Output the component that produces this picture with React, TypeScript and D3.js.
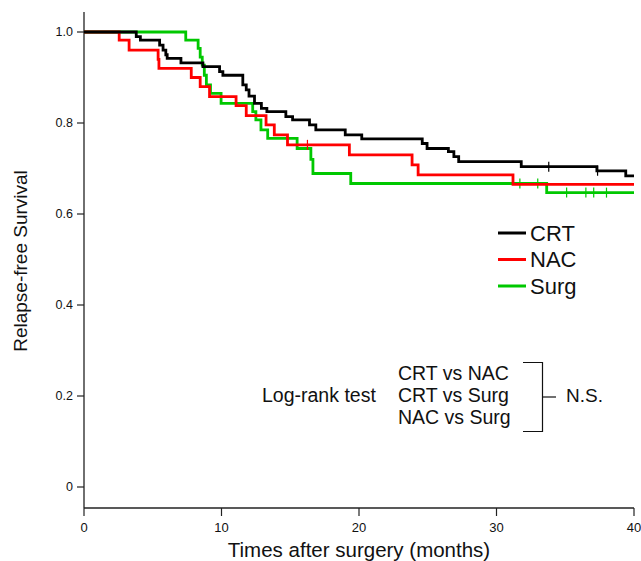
import React from "react";
import * as d3 from "d3";

const xTicks = [0, 10, 20, 30, 40];
const yTicks = [0, 0.2, 0.4, 0.6, 0.8, 1.0];
const yTickLabels = ["0", "0.2", "0.4", "0.6", "0.8", "1.0"];

const crtTimes = [0, 3.8, 4.1, 5.5, 5.75, 5.95, 6.05, 7.05, 8.65, 9.86, 10.1, 11.55, 11.8, 12.0, 12.4, 12.9, 13.3, 14.68, 15.17, 16.4, 16.86, 19.0, 20.2, 24.6, 24.95, 26.5, 26.9, 27.25, 31.8, 37.3, 39.4, 40];
const crtSurv = [1, 0.99, 0.982, 0.971, 0.96, 0.95, 0.942, 0.932, 0.924, 0.913, 0.905, 0.884, 0.873, 0.859, 0.843, 0.832, 0.825, 0.814, 0.807, 0.796, 0.785, 0.774, 0.765, 0.755, 0.744, 0.737, 0.726, 0.715, 0.704, 0.695, 0.684, 0.684];
const crtCensorT = [33.8, 37.35];
const crtCensorS = [0.704, 0.695];

const nacTimes = [0, 2.56, 3.28, 5.39, 5.45, 7.8, 8.45, 9.13, 11.06, 11.8, 13.24, 13.84, 14.8, 19.3, 23.86, 24.3, 31.2, 40];
const nacSurv = [1, 0.982, 0.96, 0.94, 0.92, 0.9, 0.88, 0.858, 0.838, 0.816, 0.796, 0.774, 0.752, 0.73, 0.708, 0.686, 0.665, 0.665];
const nacCensorT = [16.25];
const nacCensorS = [0.752];

const surgTimes = [0, 7.4, 8.3, 8.45, 8.6, 8.75, 8.9, 9.2, 9.97, 12.27, 12.5, 12.87, 13.36, 15.5, 16.5, 16.65, 19.4, 33.65, 40];
const surgSurv = [1, 0.982, 0.964, 0.945, 0.927, 0.905, 0.884, 0.865, 0.843, 0.825, 0.807, 0.785, 0.766, 0.744, 0.72, 0.689, 0.667, 0.647, 0.647];
const surgCensorT = [31.7, 33.0, 35.1, 36.5, 37.07, 38.0];
const surgCensorS = [0.667, 0.667, 0.647, 0.647, 0.647, 0.647];

const groups = ["CRT", "NAC", "Surg"];
const colors = ["#000000", "#ff0000", "#00c800"];
const compLines = ["CRT vs NAC", "CRT vs Surg", "NAC vs Surg"];

const FONT = "'Liberation Sans', Arial, Helvetica, sans-serif";

export default function App() {
  const W = 641, H = 561;
  const x = d3.scaleLinear().domain([0, 40]).range([84, 634]);
  const y = d3.scaleLinear().domain([0, 1]).range([487, 32]);
  const line = d3
    .line<[number, number]>()
    .x((d) => x(d[0]))
    .y((d) => y(d[1]))
    .curve(d3.curveStepAfter);

  const series = [
    { t: crtTimes, s: crtSurv, ct: crtCensorT, cs: crtCensorS },
    { t: nacTimes, s: nacSurv, ct: nacCensorT, cs: nacCensorS },
    { t: surgTimes, s: surgSurv, ct: surgCensorT, cs: surgCensorS },
  ];
  const order = [2, 1, 0];
  const axisY = 508;

  return (
    <svg width={W} height={H} style={{ position: "absolute", left: 0, top: 0, background: "#fff" }} fontFamily={FONT}>
      {/* y axis */}
      <line x1={84} x2={84} y1={12} y2={axisY} stroke="#222" strokeWidth={1.3} />
      {yTicks.map((v, i) => (
        <g key={"yt" + i}>
          <line x1={77} x2={84} y1={y(v)} y2={y(v)} stroke="#222" strokeWidth={1.2} />
          <text x={73} y={y(v)} dy="0.35em" textAnchor="end" fontSize={12.5} fill="#111">
            {yTickLabels[i]}
          </text>
        </g>
      ))}
      {/* x axis */}
      <line x1={84} x2={x(40)} y1={axisY} y2={axisY} stroke="#222" strokeWidth={1.3} />
      {xTicks.map((v) => (
        <g key={"xt" + v}>
          <line x1={x(v)} x2={x(v)} y1={axisY} y2={axisY + 8} stroke="#222" strokeWidth={1.2} />
          <text x={x(v)} y={axisY + 24} textAnchor="middle" fontSize={13} fill="#111">
            {v}
          </text>
        </g>
      ))}
      <text x={359} y={557} textAnchor="middle" fontSize={20.5} fill="#111">
        Times after surgery (months)
      </text>
      <text transform={`translate(27,261) rotate(-90)`} textAnchor="middle" fontSize={19} fill="#111">
        Relapse-free Survival
      </text>

      {/* curves */}
      {order.map((gi) => {
        const s = series[gi];
        const pts: [number, number][] = s.t.map((t, i) => [t, s.s[i]]);
        return (
          <g key={"c" + gi}>
            <path d={line(pts) || ""} fill="none" stroke={colors[gi]} strokeWidth={2.8} />
            {s.ct.map((t, i) => (
              <line key={i} x1={x(t)} x2={x(t)} y1={y(s.cs[i]) - 5} y2={y(s.cs[i]) + 5} stroke={colors[gi]} strokeWidth={1.2} />
            ))}
          </g>
        );
      })}

      {/* legend */}
      {groups.map((g, i) => (
        <g key={"lg" + g}>
          <line x1={498} x2={526} y1={233 + i * 26.5} y2={233 + i * 26.5} stroke={colors[i]} strokeWidth={3} />
          <text x={530} y={233 + i * 26.5} dy="0.36em" fontSize={22} fill="#111">
            {g}
          </text>
        </g>
      ))}

      {/* log-rank annotation */}
      <text x={262} y={402} fontSize={19.5} fill="#111">Log-rank test</text>
      {compLines.map((c, i) => (
        <text key={c} x={398} y={380 + i * 22} fontSize={19.5} fill="#111">
          {c}
        </text>
      ))}
      <path d="M523,362.5 H542.5 V431.5 H523" fill="none" stroke="#111" strokeWidth={1.2} />
      <line x1={542.5} x2={556} y1={397} y2={397} stroke="#111" strokeWidth={1.2} />
      <text x={566} y={402} fontSize={19} fill="#111">N.S.</text>
    </svg>
  );
}
